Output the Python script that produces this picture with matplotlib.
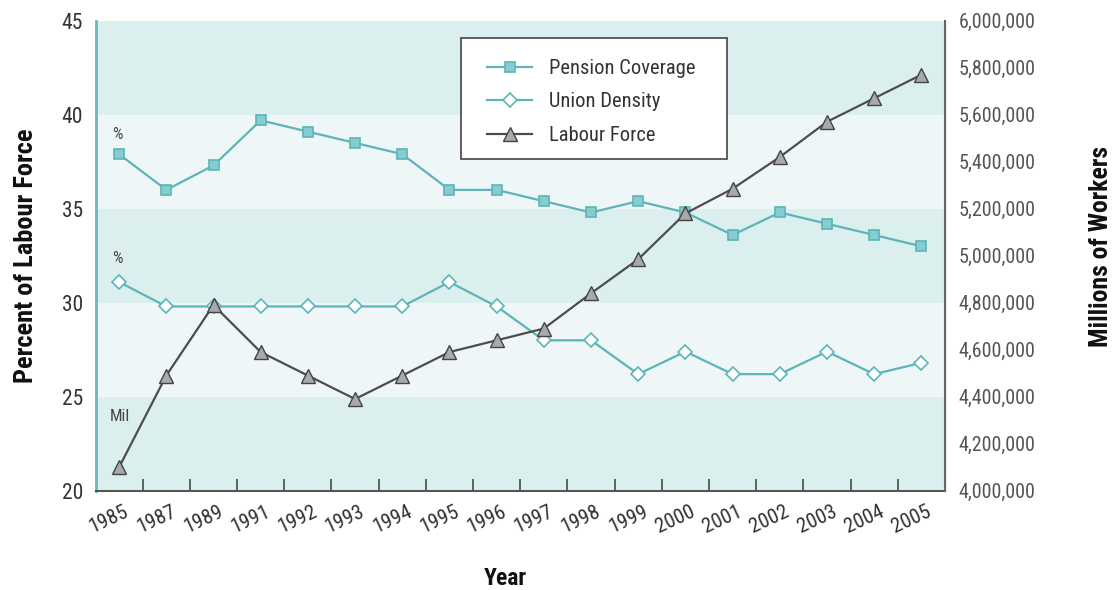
import matplotlib
matplotlib.use("Agg")
import matplotlib.pyplot as plt
from matplotlib.ticker import FuncFormatter, FixedLocator
from matplotlib.transforms import ScaledTranslation
from matplotlib.patches import Rectangle

plt.rcParams['font.family'] = ['Roboto Condensed', 'DejaVu Sans']

years = ["1985", "1987", "1989", "1991", "1992", "1993", "1994", "1995", "1996",
         "1997", "1998", "1999", "2000", "2001", "2002", "2003", "2004", "2005"]
pension_coverage = [37.9, 36.0, 37.3, 39.7, 39.1, 38.5, 37.9, 36.0, 36.0,
                    35.4, 34.8, 35.4, 34.8, 33.6, 34.8, 34.2, 33.6, 33.0]
union_density = [31.1, 29.8, 29.8, 29.8, 29.8, 29.8, 29.8, 31.1, 29.8,
                 28.0, 28.0, 26.2, 27.4, 26.2, 26.2, 27.4, 26.2, 26.8]
labour_force = [4100000, 4490000, 4790000, 4590000, 4490000, 4390000, 4490000, 4590000, 4640000,
                4690000, 4840000, 4985000, 5180000, 5285000, 5420000, 5570000, 5670000, 5770000]

TEAL = "#5db4b9"
TEAL_FILL = "#86cdd2"
BAND_DARK = "#dcefef"
BAND_LIGHT = "#eff6f7"
GRAY_LINE = "#4d4d4d"

fig = plt.figure(figsize=(11.12, 5.9), dpi=100)
ax = fig.add_axes([0.0859, 0.1683, 0.7639, 0.7966])
ax2 = ax.twinx()

x = list(range(len(years)))

# alternating horizontal bands behind the data
for lo, hi, c in [(20, 25, BAND_DARK), (25, 30, BAND_LIGHT), (30, 35, BAND_DARK),
                  (35, 40, BAND_LIGHT), (40, 45, BAND_DARK)]:
    ax.axhspan(lo, hi, color=c, zorder=0, lw=0)

l1, = ax.plot(x, pension_coverage, color=TEAL, lw=1.6, marker="s", markersize=7.2,
              markerfacecolor=TEAL_FILL, markeredgecolor=TEAL, markeredgewidth=1.2,
              label="Pension Coverage", zorder=3)
l2, = ax.plot(x, union_density, color=TEAL, lw=1.6, marker="D", markersize=7.4,
              markerfacecolor="white", markeredgecolor=TEAL, markeredgewidth=1.2,
              label="Union Density", zorder=3)
l3, = ax2.plot(x, labour_force, color=GRAY_LINE, lw=1.6, marker="^", markersize=9.5,
               markerfacecolor="#a7a9aa", markeredgecolor="#444444", markeredgewidth=1.0,
               label="Labour Force", zorder=3)

ax.set_xlim(-0.5, len(years) - 0.5)
ax.set_ylim(20, 45)
ax2.set_ylim(4000000, 6000000)

ax.set_yticks([20, 25, 30, 35, 40, 45])
ax.tick_params(axis="y", length=0, pad=9, labelsize=15.5, labelcolor="#333333")
ax2.set_yticks(range(4000000, 6000001, 200000))
ax2.yaxis.set_major_formatter(FuncFormatter(lambda v, p: f"{int(v):,}"))
ax2.tick_params(axis="y", length=0, pad=10, labelsize=14.5, labelcolor="#555555")

ax.set_xticks(x)
ax.set_xticklabels(years, rotation=25, fontsize=15, color="#333333")
ax.tick_params(axis="x", which="major", length=0, pad=8)
shift = ScaledTranslation(-10 / 100, 0, fig.dpi_scale_trans)
for lab in ax.get_xticklabels():
    lab.set_transform(lab.get_transform() + shift)
ax.xaxis.set_minor_locator(FixedLocator([i + 0.5 for i in range(len(years) - 1)]))
ax.tick_params(axis="x", which="minor", direction="in", length=9, width=1.3, color="#555555")

for a in (ax, ax2):
    a.spines["top"].set_visible(False)
ax.spines["left"].set_color("#6fb6b8")
ax.spines["left"].set_linewidth(2)
ax.spines["bottom"].set_color("#555555")
ax.spines["bottom"].set_linewidth(1.5)
ax2.spines["right"].set_color("#666666")
ax2.spines["right"].set_linewidth(1.5)
ax2.spines["left"].set_visible(False)
ax2.spines["bottom"].set_visible(False)

ax.text(-0.03, 38.97, "%", fontsize=12, color="#444444", ha="center", va="center", zorder=4)
ax.text(-0.03, 32.34, "%", fontsize=12, color="#444444", ha="center", va="center", zorder=4)
ax.text(0.02, 23.97, "Mil", fontsize=12, color="#444444", ha="center", va="center", zorder=4)

ax.set_ylabel("Percent of Labour Force", fontsize=19, fontweight="bold", color="#111111")
ax.yaxis.set_label_coords(-0.068, 0.5)
ax2.set_ylabel("Millions of Workers", fontsize=18.5, fontweight="bold", color="#111111")
ax2.yaxis.set_label_coords(1.169, 0.52)
ax.set_xlabel("Year", fontsize=17, fontweight="bold", color="#111111")
ax.xaxis.set_label_coords(0.482, -0.163)

# legend box drawn separately so its padding can be set freely
ax2.add_patch(Rectangle((0.4303, 0.7057), 0.3131, 0.2575, transform=ax2.transAxes,
                        facecolor="white", edgecolor="#444444", lw=1.2, zorder=4.5,
                        clip_on=False))
leg = ax2.legend(handles=[l1, l2, l3], loc="upper left", bbox_to_anchor=(0.4609, 0.9185),
                 fontsize=14.8, frameon=False, handlelength=2.2, handletextpad=0.8,
                 borderpad=0, labelspacing=0.70, borderaxespad=0)
leg.set_zorder(5)
for t in leg.get_texts():
    t.set_color("#333333")

fig.savefig("out.png", dpi=100, facecolor="white")
